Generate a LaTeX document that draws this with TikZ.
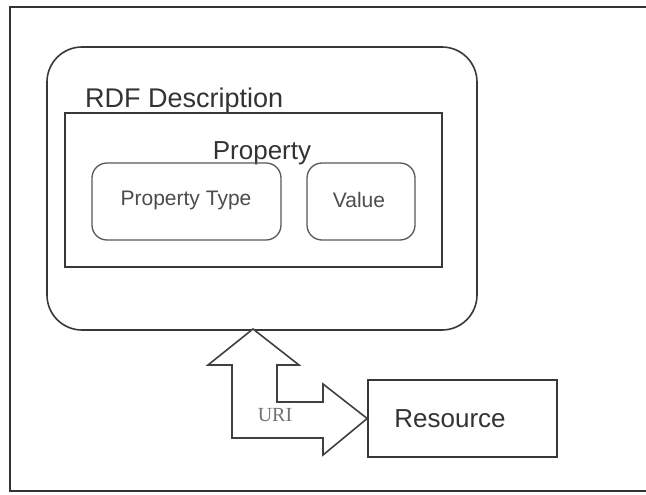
\documentclass[tikz,border=0pt]{standalone}
\usepackage{fontspec}
\setmainfont{Liberation Sans}
\newfontfamily\serifurl{Liberation Serif}
\begin{document}
\begin{tikzpicture}[x=1pt,y=-1pt,
  frameline/.style={draw=black!80, line width=2pt},
  boxline/.style={draw=black!78, line width=1.6pt},
  smallbox/.style={draw=black!65, line width=1.3pt, rounded corners=15pt, inner sep=0pt},
  bigtext/.style={font=\fontsize{27}{31}\selectfont, text=black!80, inner sep=0pt},
  midtext/.style={font=\fontsize{21}{25}\selectfont, text=black!70, inner sep=0pt},
]
\useasboundingbox (0,0) rectangle (646,495);
\fill[white] (0,0) rectangle (646,495);
% outer frame (right side open)
\draw[frameline] (646,7) -- (10,7) -- (10,491) -- (646,491);
% RDF description
\node[boxline, rounded corners=35pt, inner sep=0pt, minimum width=430pt, minimum height=283pt] (desc) at (262,188.5) {};
\node[bigtext, anchor=base west] (desclabel) at (85,108) {RDF Description};
% Property
\node[boxline, inner sep=0pt, minimum width=377pt, minimum height=154pt] (prop) at (253.5,190) {};
\node[bigtext, font=\fontsize{26}{30}\selectfont, anchor=base] (proplabel) at (262,160) {Property};
\node[smallbox, minimum width=189pt, minimum height=77pt] (ptype) at (186.5,201.5) {};
\node[midtext] (ptypelabel) at (186,200) {Property Type};
\node[smallbox, minimum width=108pt, minimum height=77pt] (value) at (361,201.5) {};
\node[midtext] (valuelabel) at (359,200) {Value};
% Resource
\node[boxline, inner sep=0pt, minimum width=189pt, minimum height=77pt] (res) at (462.5,418.5) {};
\node[bigtext, font=\fontsize{26}{30}\selectfont] (reslabel) at (450,419) {Resource};
% double arrow shape
\coordinate (tipup) at (253,329);
\coordinate (tipright) at (res.west);
\draw[draw=black!75, line width=1.6pt, line join=miter, fill=white]
  (tipup) -- (299,365) -- (277,365) -- (277,402) -- (323,402) -- (323,384)
  -- (tipright) -- (323,455) -- (323,438) -- (232,438) -- (232,365) -- (208,365) -- cycle;
\node[font=\serifurl\fontsize{20}{24}\selectfont, text=black!55, inner sep=0pt] (uri) at (275,415) {URI};
\end{tikzpicture}
\end{document}
